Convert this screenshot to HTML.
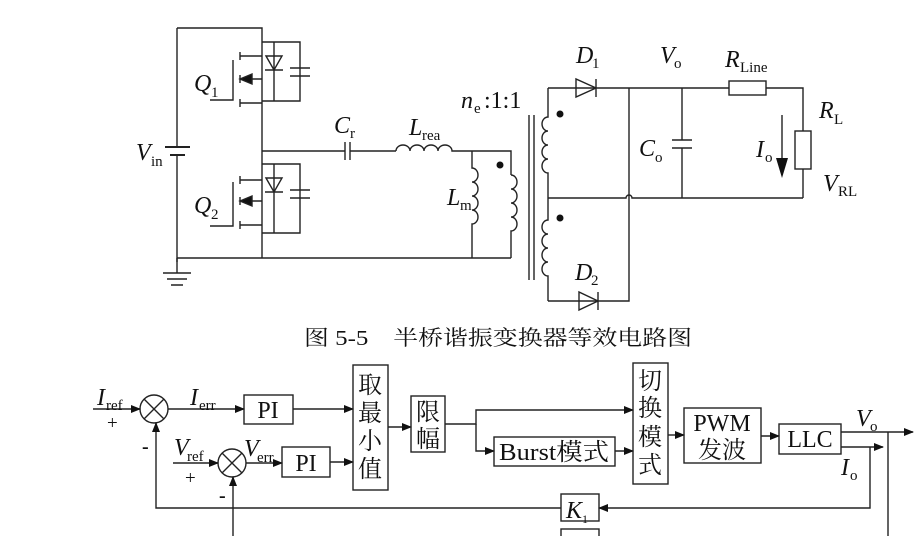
<!DOCTYPE html>
<html><head><meta charset="utf-8"><style>
html,body{margin:0;padding:0;background:#fff;}
svg{display:block;}
text{font-family:"Liberation Serif","Noto Serif CJK SC",serif;fill:#111;}
.i{font-style:italic;}
.cj{font-family:"Liberation Serif","Noto Serif CJK SC",serif;}
</style></head><body>
<svg width="917" height="536" viewBox="0 0 917 536" xmlns="http://www.w3.org/2000/svg">
<defs>
<marker id="a" markerWidth="10" markerHeight="8" refX="9" refY="4" orient="auto" markerUnits="userSpaceOnUse"><path d="M0,0 L10,4 L0,8 Z" fill="#111"/></marker>
</defs>
<g stroke="#222" stroke-width="1.4" fill="none">
<path d="M177,28 V147 M177,155 V262 M177,28 H262 V258"/>
<path d="M165,147 H190 M170,155 H185" stroke-width="2"/>
<path d="M177,258 H511"/>
<path d="M177,258 V273 M163,273 H191 M167,279 H187 M171,285 H183"/>
<!-- Q1 -->
<path d="M262,42 H300 V101 H262 M274,42 V101 M300,42 V68 M300,76 V101 M290,68 H310 M290,76 H310"/>
<path d="M265,70 H283 M266,56 L274,70 L282,56 Z" />
<path d="M262,56 H240 M240,52 V60 M240,75 V83 M240,99 V107 M240,79 H262 M262,103 H240 M233,60 V100 H210"/>
<path d="M240,79 L252,74 L252,84 Z" fill="#111"/>
<!-- Q2 -->
<path d="M262,164 H300 V233 H262 M274,164 V233 M300,164 V190 M300,198 V233 M290,190 H310 M290,198 H310"/>
<path d="M265,192 H283 M266,178 L274,192 L282,178 Z"/>
<path d="M262,180 H240 M240,176 V184 M240,197 V205 M240,221 V229 M240,201 H262 M262,225 H240 M233,182 V226 H210"/>
<path d="M240,201 L252,196 L252,206 Z" fill="#111"/>
<path d="M262,151 H345 M345,142 V160 M350,142 V160 M350,151 H396"/>
<path d="M396,151 a7,6 0 0 1 14,0 a7,6 0 0 1 14,0 a7,6 0 0 1 14,0 a7,6 0 0 1 14,0 H511 V175"/>
<path d="M472,151 V168 a6,7 0 0 1 0,14 a6,7 0 0 1 0,14 a6,7 0 0 1 0,14 a6,7 0 0 1 0,14 V258"/>
<path d="M511,175 a6,7 0 0 1 0,14 a6,7 0 0 1 0,14 a6,7 0 0 1 0,14 a6,7 0 0 1 0,14 V258"/>
<path d="M529,115 V280 M534,115 V280"/>
<path d="M548,88 V117 a6,7 0 0 0 0,14 a6,7 0 0 0 0,14 a6,7 0 0 0 0,14 a6,7 0 0 0 0,14 V220 a6,7 0 0 0 0,14 a6,7 0 0 0 0,14 a6,7 0 0 0 0,14 a6,7 0 0 0 0,14 V301"/>
<path d="M548,88 H629 M548,198 H626 a3,3 0 0 1 6,0 H803 M548,301 H629 V88"/>
<path d="M576,79 V97 L596,88 Z M596,79 V97"/>
<path d="M579,292 V310 L598,301 Z M598,292 V310"/>
<path d="M682,88 V140 M672,140 H692 M672,148 H692 M682,148 V198"/>
<path d="M629,88 H729 M766,88 H803 V131 M803,169 V198"/>
<rect x="729" y="81" width="37" height="14"/>
<rect x="795" y="131" width="16" height="38"/>
<path d="M782,115 V160"/>
</g>
<path d="M776,158 H788 L782,178 Z" fill="#111"/>
<circle cx="500" cy="165" r="3.5" fill="#111"/>
<circle cx="560" cy="114" r="3.5" fill="#111"/>
<circle cx="560" cy="218" r="3.5" fill="#111"/>
<g font-size="24">
<text x="136" y="160" class="i">V</text><text x="151" y="166" font-size="15">in</text>
<text x="194" y="91" class="i">Q</text><text x="211" y="97" font-size="15">1</text>
<text x="194" y="213" class="i">Q</text><text x="211" y="219" font-size="15">2</text>
<text x="334" y="133" class="i">C</text><text x="350" y="138" font-size="15">r</text>
<text x="409" y="135" class="i">L</text><text x="422" y="140" font-size="15">rea</text>
<text x="447" y="205" class="i">L</text><text x="460" y="210" font-size="15">m</text>
<text x="461" y="108" class="i">n</text><text x="474" y="113" font-size="15">e</text><text x="484" y="108"> :1:1</text>
<text x="576" y="63" class="i">D</text><text x="592" y="68" font-size="15">1</text>
<text x="575" y="280" class="i">D</text><text x="591" y="285" font-size="15">2</text>
<text x="660" y="63" class="i">V</text><text x="674" y="68" font-size="15">o</text>
<text x="725" y="67" class="i">R</text><text x="740" y="72" font-size="15">Line</text>
<text x="819" y="118" class="i">R</text><text x="834" y="124" font-size="15">L</text>
<text x="639" y="156" class="i">C</text><text x="655" y="162" font-size="15">o</text>
<text x="756" y="157" class="i">I</text><text x="765" y="162" font-size="15">o</text>
<text x="823" y="191" class="i">V</text><text x="838" y="196" font-size="15">RL</text>
</g>
<text x="498" y="345" font-size="21" text-anchor="middle" class="cj" textLength="388" lengthAdjust="spacingAndGlyphs">图 5-5　半桥谐振变换器等效电路图</text>
<g stroke="#222" stroke-width="1.4" fill="none">
<circle cx="154" cy="409" r="14"/><path d="M144,399 L164,419 M164,399 L144,419"/>
<circle cx="232" cy="463" r="14"/><path d="M222,453 L242,473 M242,453 L222,473"/>
<path d="M93,409 H140" marker-end="url(#a)"/>
<path d="M168,409 H244" marker-end="url(#a)"/>
<rect x="244" y="395" width="49" height="29"/>
<path d="M293,409 H353" marker-end="url(#a)"/>
<path d="M173,463 H218" marker-end="url(#a)"/>
<path d="M246,463 H282" marker-end="url(#a)"/>
<rect x="282" y="447" width="48" height="30"/>
<path d="M330,462 H353" marker-end="url(#a)"/>
<rect x="353" y="365" width="35" height="125"/>
<path d="M388,427 H411" marker-end="url(#a)"/>
<rect x="411" y="396" width="34" height="56"/>
<path d="M445,424 H476 V410 H633" marker-end="url(#a)"/>
<path d="M476,424 V451 H494" marker-end="url(#a)"/>
<rect x="494" y="437" width="121" height="29"/>
<path d="M615,451 H633" marker-end="url(#a)"/>
<rect x="633" y="363" width="35" height="121"/>
<path d="M668,435 H684" marker-end="url(#a)"/>
<rect x="684" y="408" width="77" height="55"/>
<path d="M761,436 H779" marker-end="url(#a)"/>
<rect x="779" y="424" width="62" height="30"/>
<path d="M841,432 H913" marker-end="url(#a)"/>
<path d="M841,447 H883" marker-end="url(#a)"/>
<path d="M888,432 V536"/>
<path d="M870,447 V508 H599" marker-end="url(#a)"/>
<rect x="561" y="494" width="38" height="27"/>
<rect x="561" y="529" width="38" height="12"/>
<path d="M561,508 H156 V423" marker-end="url(#a)"/>
<path d="M233,536 V477" marker-end="url(#a)"/>
</g>
<g font-size="24">
<text x="97" y="405" class="i">I</text><text x="106" y="410" font-size="15">ref</text>
<text x="107" y="429" font-size="19">+</text>
<text x="142" y="453" font-size="20" font-weight="bold">-</text>
<text x="190" y="405" class="i">I</text><text x="199" y="410" font-size="15">err</text>
<text x="268" y="418" text-anchor="middle">PI</text>
<text x="174" y="455" class="i">V</text><text x="187" y="461" font-size="15">ref</text>
<text x="185" y="484" font-size="19">+</text>
<text x="219" y="502" font-size="20" font-weight="bold">-</text>
<text x="244" y="456" class="i">V</text><text x="257" y="462" font-size="15">err</text>
<text x="306" y="471" text-anchor="middle">PI</text>
<text x="370" y="393" text-anchor="middle" class="cj">取</text>
<text x="370" y="421" text-anchor="middle" class="cj">最</text>
<text x="370" y="449" text-anchor="middle" class="cj">小</text>
<text x="370" y="477" text-anchor="middle" class="cj">值</text>
<text x="428" y="420" text-anchor="middle" class="cj">限</text>
<text x="428" y="447" text-anchor="middle" class="cj">幅</text>
<text x="554" y="460" text-anchor="middle" class="cj" textLength="110" lengthAdjust="spacingAndGlyphs">Burst模式</text>
<text x="650" y="389" text-anchor="middle" class="cj">切</text>
<text x="650" y="416" text-anchor="middle" class="cj">换</text>
<text x="650" y="445" text-anchor="middle" class="cj">模</text>
<text x="650" y="473" text-anchor="middle" class="cj">式</text>
<text x="722" y="431" text-anchor="middle">PWM</text>
<text x="722" y="458" text-anchor="middle" class="cj">发波</text>
<text x="810" y="447" text-anchor="middle">LLC</text>
<text x="856" y="426" class="i">V</text><text x="870" y="431" font-size="15">o</text>
<text x="841" y="475" class="i">I</text><text x="850" y="480" font-size="15">o</text>
<text x="566" y="518" class="i">K</text><text x="582" y="523" font-size="12">1</text>
</g>
</svg>
</body></html>
